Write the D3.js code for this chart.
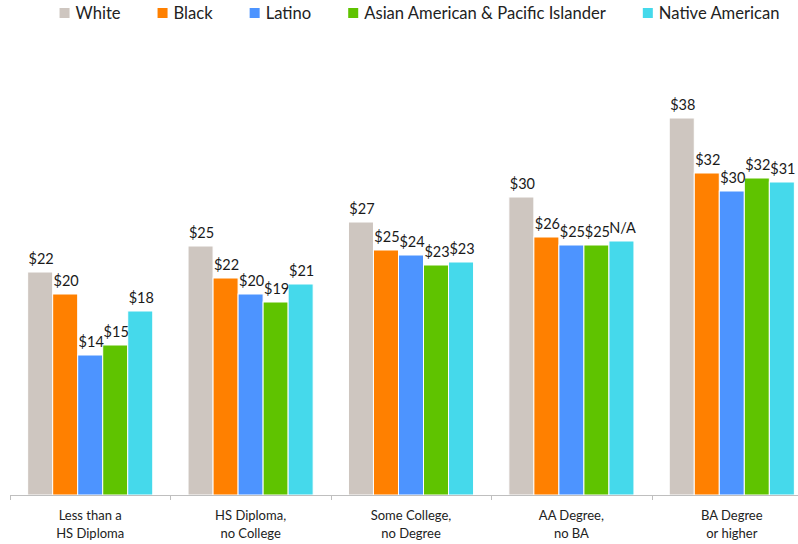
<!DOCTYPE html>
<html>
<head>
<meta charset="utf-8">
<script src="https://cdn.jsdelivr.net/npm/d3@7"></script>
<style>
  html, body { margin: 0; padding: 0; background: #fff; }
  svg { display: block; font-family: Lato, "Open Sans", sans-serif; }
</style>
</head>
<body>
<svg id="chart" width="798" height="544"></svg>
<script>
// ---- data ----
const categories = ["Less than a|HS Diploma", "HS Diploma,|no College", "Some College,|no Degree", "AA Degree,|no BA", "BA Degree|or higher"];
const seriesNames = ["White", "Black", "Latino", "Asian American & Pacific Islander", "Native American"];
const seriesColors = ["#CEC6C0", "#FF8000", "#4D94FF", "#5FC300", "#45D9EB"];
const white  = [22.3, 24.9, 27.3, 29.8, 37.7];
const black  = [20.1, 21.7, 24.5, 25.8, 32.2];
const latino = [14.0, 20.1, 24.0, 25.0, 30.4];
const asian  = [15.0, 19.3, 23.0, 25.0, 31.7];
const native = [18.4, 21.1, 23.3, 25.4, 31.3];
const whiteLabels  = ["$22", "$25", "$27", "$30", "$38"];
const blackLabels  = ["$20", "$22", "$25", "$26", "$32"];
const latinoLabels = ["$14", "$20", "$24", "$25", "$30"];
const asianLabels  = ["$15", "$19", "$23", "$25", "$32"];
const nativeLabels = ["$18", "$21", "$23", "N/A", "$31"];
const yDomain = [0, 40];

const seriesValues = [white, black, latino, asian, native];
const seriesLabels = [whiteLabels, blackLabels, latinoLabels, asianLabels, nativeLabels];

// ---- layout ----
const svg = d3.select("#chart");
const baseY = 495;
const x0 = d3.scaleBand().domain(categories).range([10, 812]).paddingInner(0.22).paddingOuter(0.11);
const x1 = d3.scaleBand().domain(seriesNames).range([0, x0.bandwidth()]).padding(0);
const y = d3.scaleLinear().domain(yDomain).range([baseY, 95]);
const color = d3.scaleOrdinal().domain(seriesNames).range(seriesColors);

const rows = [];
categories.forEach((c, i) => {
  seriesNames.forEach((s, j) => {
    rows.push({cat: c, series: s, value: seriesValues[j][i], label: seriesLabels[j][i]});
  });
});

// bars
svg.append("g").selectAll("rect").data(rows).join("rect")
  .attr("x", d => x0(d.cat) + x1(d.series))
  .attr("y", d => y(d.value))
  .attr("width", x1.bandwidth())
  .attr("height", d => y(0) - y(d.value))
  .attr("fill", d => color(d.series))
  .attr("stroke", "#fff")
  .attr("stroke-width", 1);

// value labels
svg.append("g").selectAll("text").data(rows).join("text")
  .attr("x", d => x0(d.cat) + x1(d.series) + x1.bandwidth() / 2 + 1)
  .attr("y", d => y(d.value) - 8)
  .attr("text-anchor", "middle")
  .attr("font-size", 14.5)
  .attr("fill", "#1a1a1a")
  .text(d => d.label);

// x axis
const axisG = svg.append("g").attr("transform", `translate(0,${baseY})`);
axisG.call(d3.axisBottom(x0).tickSize(0).tickFormat(""));
axisG.select(".domain").attr("stroke", "#BFBFBF").attr("d", "M10,0.5H812");
const step = x0.step();
const gap = (step - x0.bandwidth()) / 2;
const bounds = categories.map(c => x0(c) - gap).concat([x0(categories[categories.length - 1]) + x0.bandwidth() + gap]);
axisG.selectAll(".bound").data(bounds).join("line")
  .attr("class", "bound")
  .attr("x1", d => Math.round(d) + 0.5).attr("x2", d => Math.round(d) + 0.5)
  .attr("y1", 0).attr("y2", 5)
  .attr("stroke", "#BFBFBF");

// category labels
const catLabels = svg.append("g").selectAll("text").data(categories).join("text")
  .attr("text-anchor", "middle")
  .attr("font-size", 13)
  .attr("fill", "#222");
catLabels.each(function(c) {
  const t = d3.select(this);
  const cx = x0(c) + x0.bandwidth() / 2;
  c.split("|").forEach((line, k) => {
    t.append("tspan").attr("x", cx).attr("y", 520 + k * 18).text(line);
  });
});

// legend
const legend = svg.append("g");
const items = legend.selectAll("g").data(seriesNames).join("g");
items.append("rect").attr("width", 10).attr("height", 10).attr("y", 8).attr("fill", d => color(d));
items.append("text").attr("x", 16).attr("y", 19).attr("font-size", 16.6).attr("fill", "#222").text(d => d);
let cursor = 0;
const offsets = [];
items.each(function() {
  offsets.push(cursor);
  const w = d3.select(this).select("text").node().getComputedTextLength();
  cursor += 16 + w + 37;
});
const totalW = cursor - 37;
const startX = 419.5 - totalW / 2;
items.attr("transform", (d, i) => `translate(${startX + offsets[i]},0)`);
</script>
</body>
</html>
